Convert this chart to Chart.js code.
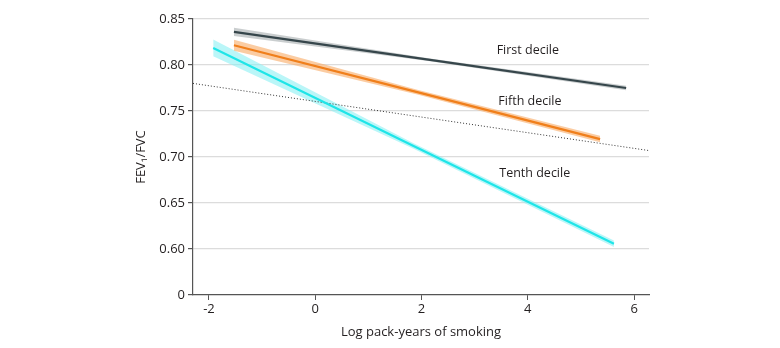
<!DOCTYPE html>
<html>
<head>
<meta charset="utf-8">
<script src="https://cdn.jsdelivr.net/npm/chart.js@4.4.0/dist/chart.umd.min.js"></script>
<style>
    html, body { margin: 0; padding: 0; background: #fff; }
    #wrap { width: 780px; height: 348px; }
</style>
</head>
<body>
<div id="wrap"><canvas id="fev-chart" width="780" height="348"></canvas></div>
<script>
// Values
const decile_names = ["First decile", "Fifth decile", "Tenth decile"];

// x positions (log pack-years): start, middle, end of each fitted line
const first_x = [-1.53, 2.16, 5.85];
const first_y = [0.836, 0.8055, 0.775];
const first_ci = [0.0045, 0.0015, 0.0025];

const fifth_x = [-1.53, 1.92, 5.36];
const fifth_y = [0.8215, 0.7705, 0.7195];
const fifth_ci = [0.006, 0.0025, 0.0035];

const tenth_x = [-1.92, 1.85, 5.62];
const tenth_y = [0.8186, 0.712, 0.6057];
const tenth_ci = [0.009, 0.003, 0.0035];

// dotted reference line
const ref_x = [-2.3, 6.28];
const ref_y = [0.780, 0.707];

// label anchors [x, y]
const label_pos = [[4.0, 0.8153], [4.04, 0.7606], [4.13, 0.6823]];

const x_ticks = [-2, 0, 2, 4, 6];
const y_ticks = [0.55, 0.60, 0.65, 0.70, 0.75, 0.80, 0.85];   // 0.55 stands in for the broken-axis "0"

const line_colours = ["#36464b", "#f07f1b", "#1fe5e8"];
const band_colours = ["rgba(150,158,160,0.5)", "rgba(248,170,100,0.6)", "rgba(140,240,244,0.6)"];

const font_family = "'Open Sans', sans-serif";
const text_colour = "#231f20";

function pts(xs, ys) {
    return xs.map((x, i) => ({x: x, y: ys[i]}));
}

function band(xs, ys, ci, sign) {
    return xs.map((x, i) => ({x: x, y: ys[i] + sign * ci[i]}));
}

const series = [
    [first_x, first_y, first_ci],
    [fifth_x, fifth_y, fifth_ci],
    [tenth_x, tenth_y, tenth_ci]
];

// higher order is drawn first, so bands sit under the lines
let datasets = [];
for (let i = 0; i < series.length; i ++) {
    const s = series[i];
    datasets.push({
        label: decile_names[i] + " upper",
        data: band(s[0], s[1], s[2], 1),
        borderWidth: 0,
        pointRadius: 0,
        fill: "+1",
        backgroundColor: band_colours[i],
        order: 3
    });
    datasets.push({
        label: decile_names[i] + " lower",
        data: band(s[0], s[1], s[2], -1),
        borderWidth: 0,
        pointRadius: 0,
        fill: false,
        order: 3
    });
}
for (let i = 0; i < series.length; i ++) {
    const s = series[i];
    datasets.push({
        label: decile_names[i],
        data: pts(s[0], s[1]),
        borderColor: line_colours[i],
        borderWidth: 2.2,
        pointRadius: 0,
        fill: false,
        order: 1
    });
}
datasets.push({
    label: "reference",
    data: pts(ref_x, ref_y),
    borderColor: "#333",
    borderWidth: 1,
    borderDash: [1, 2],
    pointRadius: 0,
    fill: false,
    order: 2
});

// writes the decile names next to their lines
const line_labels = {
    id: "line_labels",
    afterDatasetsDraw(chart) {
        const ctx = chart.ctx;
        const xs = chart.scales.x;
        const ys = chart.scales.y;
        ctx.save();
        ctx.font = "12.5px " + font_family;
        ctx.fillStyle = text_colour;
        ctx.textAlign = "center";
        ctx.textBaseline = "middle";
        for (let i = 0; i < decile_names.length; i ++) {
            ctx.fillText(decile_names[i],
                xs.getPixelForValue(label_pos[i][0]),
                ys.getPixelForValue(label_pos[i][1]));
        }
        ctx.restore();
    }
};

const config = {
    type: "line",
    data: { datasets: datasets },
    options: {
        responsive: false,
        animation: false,
        layout: {
            padding: { left: 133, right: 131, top: 19, bottom: 8 }
        },
        plugins: {
            legend: { display: false },
            tooltip: { enabled: false }
        },
        scales: {
            x: {
                type: "linear",
                min: -2.3,
                max: 6.28,
                afterBuildTicks: (scale) => { scale.ticks = x_ticks.map(v => ({value: v})); },
                afterFit: (scale) => { scale.height = 45; },
                border: { color: "#555", width: 1.2 },
                grid: { drawOnChartArea: false, tickLength: 5, tickColor: "#555" },
                ticks: {
                    color: text_colour,
                    font: { family: font_family, size: 13 },
                    padding: 1,
                    maxRotation: 0
                },
                title: {
                    display: true,
                    text: "Log pack-years of smoking",
                    color: text_colour,
                    font: { family: font_family, size: 13 },
                    padding: { top: 3, bottom: 0 }
                }
            },
            y: {
                type: "linear",
                min: 0.55,
                max: 0.85,
                afterBuildTicks: (scale) => { scale.ticks = y_ticks.map(v => ({value: v})); },
                afterFit: (scale) => { scale.width = 60; },
                border: { color: "#555", width: 1.2 },
                grid: {
                    color: (c) => (c.tick && c.tick.value < 0.56) ? "rgba(0,0,0,0)" : "#dcdcdc",
                    lineWidth: 1.2,
                    tickLength: 5,
                    tickColor: "#555"
                },
                ticks: {
                    color: text_colour,
                    font: { family: font_family, size: 13 },
                    padding: 3,
                    callback: (v) => v < 0.56 ? "0" : v.toFixed(2)
                },
                title: {
                    display: true,
                    text: "FEV\u2081/FVC",
                    color: text_colour,
                    font: { family: font_family, size: 13 },
                    padding: { top: 0, bottom: 2 }
                }
            }
        }
    },
    plugins: [line_labels]
};

const ctx = document.getElementById("fev-chart").getContext("2d");
const fev_chart = new Chart(ctx, config);
</script>
</body>
</html>
